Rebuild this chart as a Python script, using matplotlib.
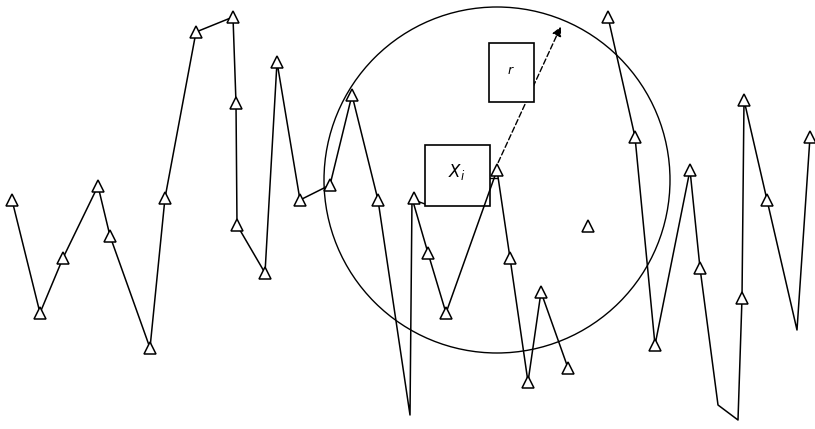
import numpy as np
import matplotlib.pyplot as plt
from matplotlib.patches import Circle, Rectangle

# Polyline vertices (image pixel coords, y down)
path1_x = [12, 40, 63, 98, 110, 150, 165, 196, 233, 236, 237, 265, 277, 300, 330, 352, 378, 410, 412, 428, 446, 497, 510, 528, 541, 568]
path1_y = [200, 313, 258, 186, 236, 348, 198, 32, 17, 103, 225, 273, 62, 200, 185, 95, 200, 415, 198, 253, 313, 170, 258, 382, 292, 368]
path2_x = [608, 635, 655, 690, 700, 718, 738, 742, 744, 767, 797, 810]
path2_y = [17, 137, 345, 170, 268, 405, 420, 298, 100, 200, 330, 137]

# Triangle markers
tri_x = [12, 40, 63, 98, 110, 150, 165, 196, 233, 236, 237, 265, 277, 300, 330, 352, 378,
         414, 428, 446, 497, 510, 528, 541, 568, 588, 608, 635, 655, 690, 700, 742, 744, 767, 810]
tri_y = [200, 313, 258, 186, 236, 348, 198, 32, 17, 103, 225, 273, 62, 200, 185, 95, 200,
         198, 253, 313, 170, 258, 382, 292, 368, 226, 17, 137, 345, 170, 268, 298, 100, 200, 137]

# Neighbourhood circle and arrow
circle_center = (497, 180)
circle_radius = 173
arrow_start = (497, 165)
arrow_end = (562, 24)

fig = plt.figure(figsize=(8.15, 4.29), dpi=100)
ax = fig.add_axes([0, 0, 1, 1])
ax.set_xlim(0, 815)
ax.set_ylim(429, 0)
ax.axis('off')

ax.plot(path1_x, path1_y, color='black', lw=1.1, zorder=6)
ax.plot(path2_x, path2_y, color='black', lw=1.1)
ax.plot(tri_x, tri_y, linestyle='none', marker='^', markersize=8.5,
        markerfacecolor='white', markeredgecolor='black', markeredgewidth=1.1, zorder=7)

ax.add_patch(Circle(circle_center, circle_radius, fill=False, ec='black', lw=1.0))

# arrow for radius r (passes behind the r box)
ax.annotate('', xy=arrow_end, xytext=arrow_start,
            arrowprops=dict(arrowstyle='-|>', color='black', lw=1.0,
                            linestyle=(0, (4, 2)), mutation_scale=14),
            zorder=3)

# Boxes with labels
ax.add_patch(Rectangle((425, 145), 65, 61, fill=True, fc='white', ec='black', lw=1.2, zorder=4))
ax.text(457, 172, r'$X_i$', ha='center', va='center', fontsize=12, zorder=5)
ax.add_patch(Rectangle((489, 43), 45, 59, fill=True, fc='white', ec='black', lw=1.2, zorder=4))
ax.text(511, 70, r'$r$', ha='center', va='center', fontsize=9, zorder=5)

ax.plot([414, 425], [200, 204], color='black', lw=1.0)
ax.plot([490, 497], [178, 178], color='black', lw=1.0)

fig.savefig('out.png', dpi=100, facecolor='white')
